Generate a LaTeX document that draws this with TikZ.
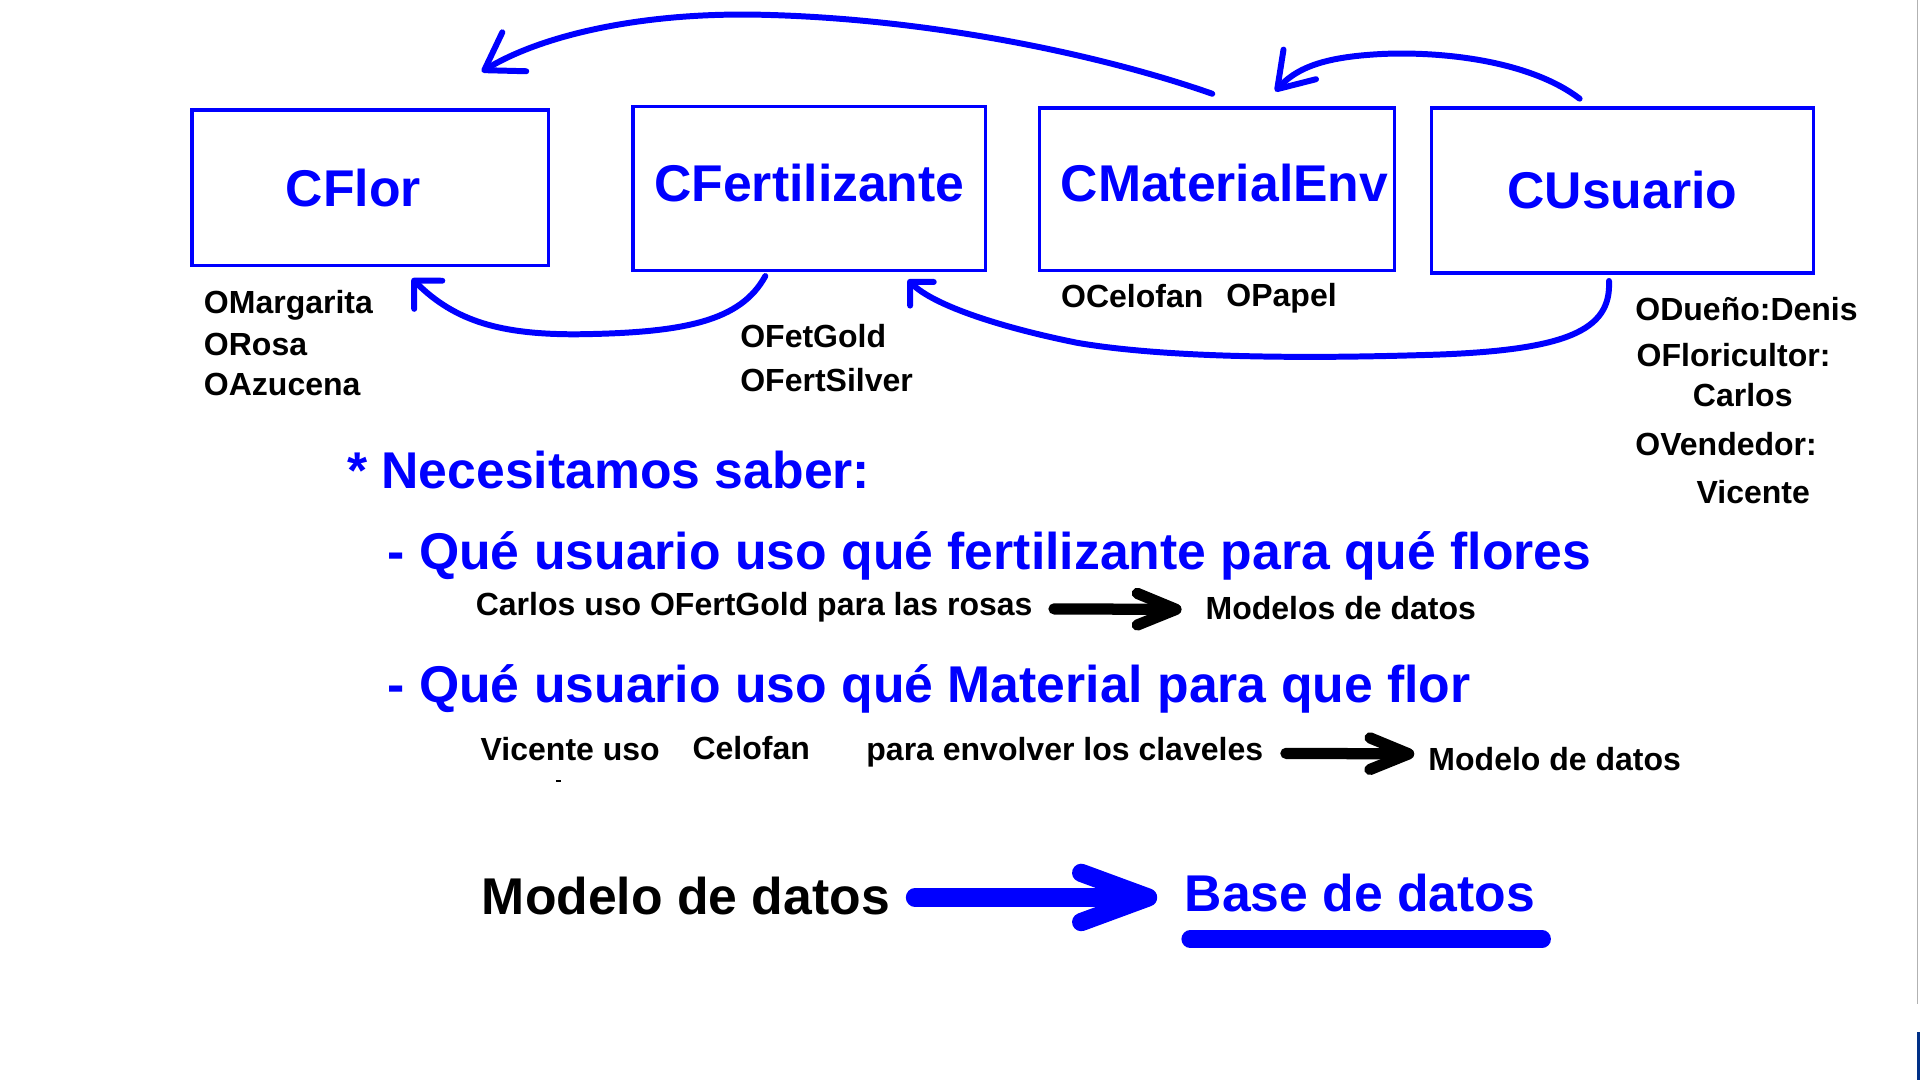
\documentclass[tikz,border=0pt]{standalone}
\usepackage{fontspec}
\setmainfont{Liberation Sans}
\usetikzlibrary{arrows.meta}

\definecolor{azul}{RGB}{0,0,255}
\definecolor{barrafondo}{RGB}{0,48,135}
\newlength{\upx}
\setlength{\upx}{0.012245cm}
\newcommand{\grande}{\fontsize{14.7}{17}\selectfont\bfseries}
\newcommand{\chica}{\fontsize{9.1}{11}\selectfont\bfseries}

\tikzset{
  clase/.style={draw=azul, line width=1pt, text=azul, font=\grande, inner sep=0pt},
  objeto/.style={font=\chica, anchor=base west, inner sep=0pt},
  pregunta/.style={font=\grande, text=azul, anchor=base west, inner sep=0pt},
  curva/.style={draw=azul, line width=1.7pt, line cap=round, line join=round},
  flechanegra/.style={line width=3.2pt, line cap=round, -{Straight Barb[round, length=11pt, width=9pt]}},
  flechaazul/.style={draw=azul, line width=5.2pt, line cap=round, -{Straight Barb[round, length=19pt, width=14pt]}}
}

\begin{document}
\begin{tikzpicture}[x=0.012245cm, y=-0.012245cm]
\useasboundingbox (0,0) rectangle (1568,882);
\fill[white] (0,0) rectangle (1568,882);

\node[clase, minimum width=291*\upx, minimum height=127*\upx] (flor) at (302.5,153.5) {\hspace*{-28\upx}CFlor};
\node[clase, minimum width=288*\upx, minimum height=134*\upx] (fert) at (661,154) {\raisebox{10\upx}{CFertilizante}};
\node[clase, minimum width=290*\upx, minimum height=133*\upx] (matenv) at (994,154.5) {\hspace*{12\upx}\raisebox{10\upx}{CMaterialEnv}};
\node[clase, minimum width=312*\upx, minimum height=135*\upx] (usuario) at (1325,155.5) {CUsuario};

\node[objeto] (margarita) at (166,256) {OMargarita};
\node[objeto] (rosa) at (166,290) {ORosa};
\node[objeto] (azucena) at (166,323) {OAzucena};
\node[objeto] (fetgold) at (604,284) {OFetGold};
\node[objeto] (fertsilver) at (604,320) {OFertSilver};
\node[objeto] (celofan) at (866,251) {OCelofan};
\node[objeto] (papel) at (1001,250) {OPapel};
\node[objeto] (duenio) at (1335,262) {ODueño:Denis};
\node[objeto] (floricultor) at (1336,299) {OFloricultor:};
\node[objeto] (carlos) at (1382,332) {Carlos};
\node[objeto] (vendedor) at (1335,372) {OVendedor:};
\node[objeto] (vicente) at (1385,411) {Vicente};

\draw[curva, -{Straight Barb[round, length=10pt, width=13pt]}] ([shift={(-4,-10)}]matenv.north) .. controls (900,45) and (760,15) .. (620,12) .. controls (520,10) and (440,30) .. ([shift={(-56,-30)}]flor.north east);
\draw[curva, -{Straight Barb[round, length=9.5pt, width=12.5pt]}] ([shift={(-35,-6)}]usuario.north) .. controls (1250,50) and (1180,42) .. (1130,44) .. controls (1090,46) and (1062,52) .. ([shift={(-99,-12)}]matenv.north east);
\draw[curva, -{Straight Barb[round, length=5.7pt, width=11.3pt]}] ([shift={(-36,3)}]fert.south) .. controls (605,262) and (560,272) .. (470,273) .. controls (410,273) and (372,263) .. ([shift={(-113,9)}]flor.south east);
\draw[curva, -{Straight Barb[round, length=4.8pt, width=9.5pt]}] ([shift={(-11,5)}]usuario.south) .. controls (1316,270) and (1280,287) .. (1160,290) .. controls (1060,293) and (950,292) .. (880,280) .. controls (820,268) and (763,250) .. ([shift={(-65,6)}]fert.south east);

\node[pregunta] (saber) at (283,399) {* Necesitamos saber:};
\node[pregunta] (pregunta1) at (316,465) {- Qué usuario uso qué fertilizante para qué flores};
\node[objeto] (frase1) at (388,503) {Carlos uso OFertGold para las rosas};
\node[objeto] (modelos1) at (984,506) {Modelos de datos};
\draw[flechanegra] ([shift={(17,1)}]frase1.east) -- ([shift={(-19,1)}]modelos1.west);

\node[pregunta] (pregunta2) at (316,574) {- Qué usuario uso qué Material para que flor};
\node[objeto] (frase2) at (392,621) {Vicente uso};
\node[objeto] (frase2b) at (565,620) {Celofan};
\node[objeto] (frase2c) at (707,621) {para envolver los claveles};
\node[objeto] (modelos2) at (1166,629) {Modelo de datos};
\draw[flechanegra] ([shift={(18,1)}]frase2c.east) -- ([shift={(-11,-4)}]modelos2.west);
\draw[line width=0.6pt] (454,638) -- (458,638);

\node[pregunta, text=black] (modelo) at (393,747) {Modelo de datos};
\node[pregunta] (base) at (967,744) {Base de datos};
\draw[flechaazul] ([shift={(20,1)}]modelo.east) -- ([shift={(-22,4)}]base.west);
\draw[azul, line width=5pt, line cap=round] ([shift={(5,22)}]base.south west) -- ([shift={(5,22)}]base.south east);

\draw[gray!60, line width=0.3pt] (1565.8,0) -- (1565.8,820);
\fill[barrafondo] (1565.3,843) rectangle (1568,882);
\end{tikzpicture}
\end{document}
